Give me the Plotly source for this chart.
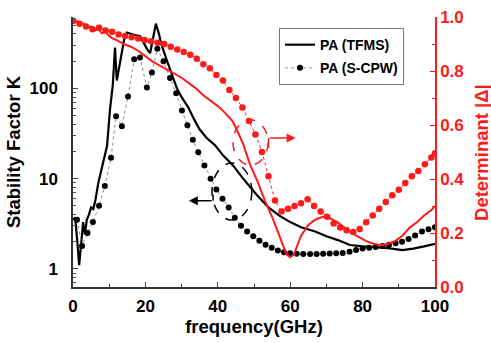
import plotly.graph_objects as go

# ---- data ----
f_tfms = [0, 0.6, 1.2, 1.7, 2.2, 2.8, 3.3, 3.8, 4.4, 5.0, 5.6, 6.2, 7.0, 7.8, 8.6, 9.4,
          10.2, 11.0, 11.6, 12.1, 12.5, 13.0, 13.6, 14.2, 14.9, 16, 17, 18.5, 19.5, 20.5,
          21.3, 22.0, 22.9, 23.6, 24.5, 26, 27.5, 28.7, 30, 31.8, 33.5, 35, 37, 39.2, 41.5,
          44.2, 47, 50.8, 54, 57, 60, 63, 66.9, 70, 73, 76.5, 80, 84, 87, 91, 94, 97, 100]
k_tfms = [3.5, 3.7, 2.0, 1.1, 1.8, 3.3, 2.4, 3.5, 4.0, 4.8, 4.6, 5.8, 9.0, 12, 17, 23,
          57, 110, 283, 122, 150, 200, 280, 360, 415, 400, 390, 380, 320, 270,
          245, 330, 520, 420, 300, 200, 140, 100, 80, 62, 45, 35, 28, 23.5, 18,
          14, 10, 6.6, 4.8, 3.9, 3.3, 2.9, 2.6, 2.3, 2.1, 1.84, 1.78, 1.75, 1.70, 1.62, 1.68, 1.78, 1.9]

f_cpw_k = [1.1, 2.5, 4.0, 5.5, 7.2, 8.8, 10.5, 11.9, 13.5, 15.2, 16.9, 18.5, 20.4, 21.8, 23.3,
           25.0, 26.8, 28.5, 30.1, 31.6, 33.1, 34.6, 36.3, 38.0, 39.6, 41.3, 43.0, 44.7, 46.4,
           48.1, 49.8, 51.5, 53.2, 54.9, 56.6, 58.3, 60.0, 61.8, 63.6, 65.5, 67.3, 69.1, 70.9,
           72.7, 74.5, 76.4, 78.2, 80.0, 81.8, 83.6, 85.5, 87.3, 89.1, 90.9, 92.7, 94.5, 96.4,
           98.2, 100]
k_cpw = [3.5, 1.8, 2.5, 3.3, 5.0, 8.3, 17, 49, 38, 81, 210, 220, 102, 150, 275,
         200, 130, 88, 57, 39, 27, 19.6, 14, 10, 7.6, 6.0, 4.8, 3.7, 3.0,
         2.6, 2.3, 2.05, 1.85, 1.72, 1.6, 1.53, 1.49, 1.47, 1.46, 1.46, 1.46, 1.47, 1.48,
         1.49, 1.5, 1.55, 1.62, 1.68, 1.72, 1.75, 1.8, 1.85, 1.92, 2.0, 2.15, 2.35, 2.6,
         2.75, 2.9]

f_tfms_d = [0, 1, 2, 3, 4, 5, 6, 7, 8, 9, 10, 11, 12, 14, 16, 18, 20, 22, 24, 26, 28, 30,
            32, 34, 36, 38, 40, 42, 44, 45, 47, 49, 51, 53, 55, 57, 59, 60, 61, 63, 65, 67,
            69, 71, 73, 75, 77, 79, 81, 83, 85, 87, 89, 91, 93, 95, 97, 99, 100]
d_tfms = [0.99, 0.985, 0.97, 0.975, 0.96, 0.965, 0.95, 0.955, 0.94, 0.945, 0.93, 0.92, 0.915,
          0.90, 0.89, 0.875, 0.855, 0.835, 0.82, 0.805, 0.79, 0.775, 0.755, 0.735, 0.71, 0.69,
          0.67, 0.645, 0.615, 0.59, 0.53, 0.45, 0.39, 0.32, 0.26, 0.19, 0.12, 0.11, 0.12, 0.19,
          0.23, 0.25, 0.26, 0.255, 0.24, 0.22, 0.20, 0.185, 0.17, 0.16, 0.155, 0.16, 0.17, 0.19,
          0.22, 0.24, 0.265, 0.285, 0.30]

f_cpw_d = [0, 1.8, 3.6, 5.4, 7.2, 9.0, 10.8, 12.6, 14.4, 16.2, 18.0, 19.8, 21.6, 23.4, 25.2,
           27.0, 28.8, 30.6, 32.4, 34.2, 36.0, 37.8, 39.6, 41.4, 43.2, 45.0, 46.8, 48.6, 50.4,
           52.2, 54.0, 55.8, 57.6, 59.4, 61.2, 63.0, 64.8, 66.6, 68.4, 70.2, 72.0, 73.8, 75.6,
           77.4, 79.2, 81.0, 82.8, 84.6, 86.4, 88.2, 90.0, 91.8, 93.6, 95.4, 97.2, 99.0, 100]
d_cpw = [0.985, 0.975, 0.965, 0.955, 0.96, 0.95, 0.945, 0.935, 0.93, 0.925, 0.92, 0.915, 0.91,
         0.905, 0.90, 0.89, 0.88, 0.87, 0.86, 0.845, 0.825, 0.81, 0.785, 0.765, 0.73, 0.70,
         0.665, 0.615, 0.565, 0.50, 0.41, 0.32, 0.28, 0.29, 0.30, 0.31, 0.325, 0.30, 0.28,
         0.26, 0.235, 0.22, 0.21, 0.204, 0.215, 0.24, 0.265, 0.29, 0.315, 0.34, 0.36, 0.385,
         0.41, 0.43, 0.455, 0.48, 0.495]

x_ticks = [0, 20, 40, 60, 80, 100]
k_ticks = [1, 10, 100]
k_minor = [0.7, 0.8, 0.9, 2, 3, 4, 5, 6, 7, 8, 9, 20, 30, 40, 50, 60, 70, 80, 90, 200, 300, 400, 500, 600]
d_ticks = [0, 0.2, 0.4, 0.6, 0.8, 1.0]

RED = '#ff1a1a'
FONT = 'Liberation Sans'

fig = go.Figure()
fig.add_trace(go.Scatter(x=f_tfms, y=k_tfms, mode='lines', name='PA (TFMS)', legendgroup='a',
                         line=dict(color='black', width=2.2), yaxis='y'))
fig.add_trace(go.Scatter(x=f_cpw_k, y=k_cpw, mode='lines+markers', name='PA (S-CPW)', legendgroup='b',
                         line=dict(color='#8a8a8a', width=1, dash='dot'),
                         marker=dict(color='black', size=6), yaxis='y'))
fig.add_trace(go.Scatter(x=f_tfms_d, y=d_tfms, mode='lines', showlegend=False,
                         line=dict(color=RED, width=2), yaxis='y2'))
fig.add_trace(go.Scatter(x=f_cpw_d, y=d_cpw, mode='lines+markers', showlegend=False,
                         line=dict(color=RED, width=1, dash='dot'),
                         marker=dict(color=RED, size=6.5), yaxis='y2'))

# dashed ellipses
fig.add_shape(type='circle', xref='x', yref='y2', x0=44.2, x1=53.9, y0=0.452, y1=0.619,
              line=dict(color=RED, width=1.5, dash='dash'))
fig.add_shape(type='circle', xref='x', yref='y2', x0=38.4, x1=49.4, y0=0.248, y1=0.459,
              line=dict(color='black', width=1.5, dash='dash'))
# arrow stems
fig.add_shape(type='line', xref='x', yref='y2', x0=54, x1=54, y0=0.552, y1=0.515,
              line=dict(color=RED, width=1.5))
fig.add_shape(type='line', xref='x', yref='y2', x0=38.7, x1=38.7, y0=0.319, y1=0.342,
              line=dict(color='black', width=1.5))
fig.add_annotation(x=61.5, y=0.552, xref='x', yref='y2', ax=54, ay=0.552, axref='x', ayref='y2',
                   text='', showarrow=True, arrowhead=2, arrowsize=1.2, arrowwidth=1.5,
                   arrowcolor=RED)
fig.add_annotation(x=32, y=0.319, xref='x', yref='y2', ax=38.7, ay=0.319, axref='x', ayref='y2',
                   text='', showarrow=True, arrowhead=2, arrowsize=1.2, arrowwidth=1.5,
                   arrowcolor='black')
# right axis title
fig.add_annotation(x=1.127, y=0.5, xref='paper', yref='paper', text='Determinant |\u0394|',
                   textangle=-90, showarrow=False, xanchor='center', yanchor='middle',
                   font=dict(family=FONT, size=18.5, weight='bold', color=RED))

TS = 17
tickfont = dict(family=FONT, size=TS, color='black', weight='bold')
titlefont = dict(family=FONT, size=18.5, weight='bold', color='black')
fig.update_layout(
    width=491, height=343,
    margin=dict(l=73, r=56, t=17, b=56, autoexpand=False),
    paper_bgcolor='white', plot_bgcolor='white',
    font=dict(family=FONT, weight='bold'),
    xaxis=dict(range=[0, 100], tickvals=x_ticks, ticks='inside', ticklen=5, automargin=False,
               tickwidth=1.3, showline=True, linecolor='#333', linewidth=1.5, showgrid=False,
               zeroline=False, tickfont=tickfont, ticklabelstandoff=3,
               minor=dict(tickvals=[10, 30, 50, 70, 90], ticks='inside', ticklen=3, tickcolor='#333'),
               title=dict(text='frequency(GHz)', font=titlefont, standoff=5)),
    yaxis=dict(type='log', range=[-0.2, 2.79], tickvals=k_ticks, ticktext=[str(v) for v in k_ticks],
               ticks='inside', ticklen=5, tickwidth=1.3, showline=True, linecolor='#333', linewidth=1.5,
               showgrid=False, zeroline=False, tickfont=tickfont, ticklabelstandoff=10, automargin=False,
               minor=dict(tickvals=k_minor, ticks='inside', ticklen=3, tickcolor='#555'),
               title=dict(text='Stability Factor K', font=titlefont, standoff=4)),
    yaxis2=dict(overlaying='y', side='right', range=[0, 1], tickvals=d_ticks, automargin=False,
                tickformat='.1f', ticks='inside', ticklen=5, tickwidth=1.3, tickcolor=RED,
                showline=True, linecolor=RED, linewidth=1.5, showgrid=False, zeroline=False,
                tickfont=dict(family=FONT, size=TS, color=RED, weight='bold'), ticklabelstandoff=0,
                minor=dict(tickvals=[0.1, 0.3, 0.5, 0.7, 0.9], ticks='inside', ticklen=3, tickcolor=RED)),
    legend=dict(x=0.569, y=0.959, xanchor='left', yanchor='top', bgcolor='white',
                bordercolor='#777', borderwidth=1,
                font=dict(family=FONT, size=14, color='black', weight='bold'),
                itemwidth=30, tracegroupgap=2),
    showlegend=True,
)

fig.write_html('out.html', config={'displayModeBar': False},
               post_script="document.body.style.margin='0';document.body.style.padding='0';")
